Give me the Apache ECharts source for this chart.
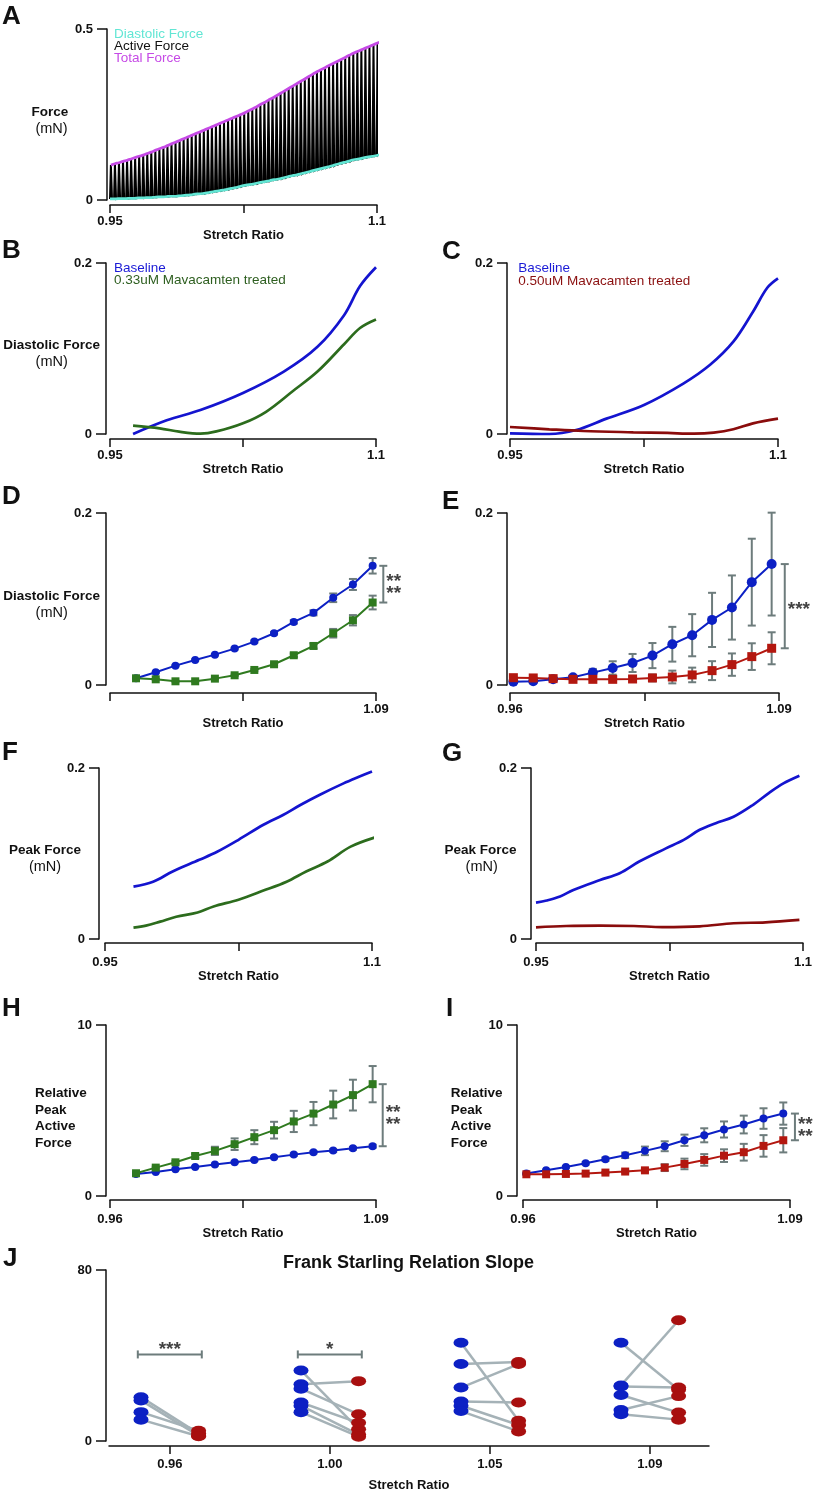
<!DOCTYPE html>
<html>
<head>
<meta charset="utf-8">
<script src="https://cdn.jsdelivr.net/npm/echarts@6/dist/echarts.min.js"></script>
<style>
  html, body { margin: 0; padding: 0; background: #fff; }
  #chart { width: 815px; height: 1495px; }
</style>
</head>
<body>
<div id="chart"></div>
<script>
// ---- panel A: beat-by-beat peaks and troughs (mN) ----
var aStart = 0.95, aEnd = 1.1066;
var aPeaks = [0.102,0.106,0.109,0.113,0.116,0.120,0.124,0.128,0.131,0.136,
  0.140,0.145,0.150,0.154,0.159,0.164,0.169,0.174,0.179,0.184,
  0.189,0.194,0.199,0.204,0.209,0.214,0.219,0.224,0.229,0.234,
  0.239,0.244,0.249,0.254,0.260,0.266,0.272,0.279,0.285,0.292,
  0.298,0.305,0.312,0.319,0.326,0.333,0.340,0.347,0.354,0.361,
  0.368,0.375,0.381,0.387,0.393,0.399,0.405,0.411,0.417,0.423,
  0.429,0.434,0.439,0.444,0.449,0.454,0.459,0.464,0.469,0.474];
var aTroughs = [0.003,0.003,0.004,0.004,0.004,0.005,0.005,0.006,0.006,0.007,
  0.007,0.008,0.009,0.009,0.010,0.011,0.011,0.012,0.013,0.014,
  0.015,0.017,0.018,0.019,0.021,0.023,0.025,0.027,0.029,0.031,
  0.034,0.036,0.039,0.042,0.044,0.046,0.048,0.051,0.053,0.055,
  0.058,0.060,0.062,0.065,0.068,0.071,0.073,0.076,0.079,0.082,
  0.085,0.088,0.091,0.094,0.097,0.100,0.104,0.107,0.110,0.113,
  0.117,0.119,0.121,0.124,0.126,0.128,0.130,0.133,0.135,0.137];

// ---- panels B, C: diastolic force traces [stretch ratio, mN] ----
var bBaseline = [[0.963,0.000],[0.982,0.016],[1.001,0.028],[1.025,0.048],[1.048,0.073],[1.067,0.102],[1.082,0.139],[1.091,0.173],[1.100,0.195]];
var bMava033 = [[0.963,0.0098],[0.978,0.0066],[0.989,0.0027],[1.001,0.0004],[1.010,0.003],[1.025,0.0125],[1.038,0.026],[1.053,0.050],[1.067,0.073],[1.082,0.105],[1.091,0.124],[1.100,0.134]];
var cBaseline = [[0.950,0.0008],[0.972,0.000],[0.987,0.0047],[1.004,0.018],[1.025,0.034],[1.047,0.059],[1.062,0.081],[1.075,0.108],[1.086,0.143],[1.094,0.171],[1.100,0.182]];
var cMava050 = [[0.950,0.0082],[0.972,0.0055],[0.991,0.0035],[1.019,0.002],[1.038,0.0012],[1.053,0.0004],[1.064,0.0016],[1.075,0.0055],[1.086,0.0125],[1.100,0.018]];

// ---- panels D, H: 13 stretch steps ----
var dRatios = [0.97,0.98,0.99,1.00,1.01,1.02,1.03,1.04,1.05,1.06,1.07,1.08,1.09];
var dBase = [0.0078,0.0148,0.0225,0.0291,0.0353,0.0423,0.0505,0.0602,0.0734,0.0839,0.1014,0.1169,0.1386];
var dBaseErr = [0.0005,0.0006,0.0006,0.0008,0.0008,0.001,0.0012,0.0015,0.002,0.003,0.005,0.0064,0.009];
var dMava = [0.0078,0.0066,0.0043,0.0043,0.0074,0.0113,0.0175,0.0241,0.0346,0.0454,0.0602,0.0753,0.0959];
var dMavaErr = [0.0005,0.0005,0.0005,0.0005,0.0006,0.0008,0.001,0.0012,0.002,0.003,0.005,0.006,0.008];

// ---- panels E, I: 14 stretch steps ----
var eRatios = [0.96,0.97,0.98,0.99,1.00,1.01,1.02,1.03,1.04,1.05,1.06,1.07,1.08,1.09];
var eBase = [0.0039,0.0043,0.0066,0.0089,0.0144,0.0198,0.0256,0.0342,0.0474,0.0579,0.0757,0.0901,0.1196,0.1406];
var eBaseErr = [0.001,0.001,0.001,0.0016,0.0043,0.0078,0.0105,0.0146,0.0202,0.0245,0.0315,0.0373,0.0505,0.0598];
var eMava = [0.0085,0.0082,0.0074,0.0066,0.0066,0.0066,0.007,0.0082,0.0093,0.0117,0.0167,0.0237,0.033,0.0427];
var eMavaErr = [0.001,0.001,0.001,0.001,0.0015,0.002,0.003,0.004,0.0074,0.0085,0.011,0.013,0.0155,0.0186];

// ---- panels F, G: peak force traces ----
var fBaseline = [[0.966,0.0613],[0.977,0.067],[0.988,0.079],[1.003,0.0926],[1.013,0.102],[1.025,0.116],[1.039,0.1336],[1.050,0.145],[1.060,0.157],[1.071,0.169],[1.084,0.182],[1.093,0.190],[1.100,0.196]];
var fMava033 = [[0.966,0.0133],[0.973,0.0156],[0.981,0.0203],[0.990,0.026],[1.002,0.031],[1.011,0.038],[1.025,0.046],[1.039,0.0566],[1.052,0.067],[1.063,0.079],[1.075,0.0906],[1.088,0.108],[1.102,0.119]];
var gBaseline = [[0.950,0.0426],[0.956,0.045],[0.9635,0.0496],[0.971,0.0574],[0.986,0.069],[0.997,0.077],[1.008,0.0906],[1.023,0.106],[1.033,0.116],[1.042,0.1277],[1.051,0.1355],[1.061,0.143],[1.072,0.157],[1.081,0.171],[1.089,0.182],[1.098,0.191]];
var gMava050 = [[0.950,0.0137],[0.967,0.0152],[0.986,0.0156],[1.005,0.0152],[1.021,0.014],[1.042,0.0148],[1.061,0.0184],[1.079,0.0195],[1.098,0.0223]];

// ---- panels H, I: relative peak active force ----
var hBase = [1.29,1.41,1.56,1.70,1.84,1.97,2.11,2.27,2.42,2.56,2.66,2.79,2.91];
var hBaseErr = [0.03,0.03,0.04,0.04,0.05,0.05,0.06,0.06,0.07,0.07,0.08,0.08,0.09];
var hMava = [1.33,1.66,1.97,2.34,2.64,3.03,3.44,3.85,4.36,4.82,5.35,5.90,6.54];
var hMavaErr = [0.05,0.06,0.08,0.12,0.24,0.34,0.41,0.49,0.62,0.68,0.81,0.90,1.06];
var iBase = [1.31,1.50,1.70,1.91,2.15,2.38,2.64,2.91,3.26,3.55,3.89,4.18,4.53,4.82];
var iBaseErr = [0.03,0.04,0.05,0.07,0.10,0.16,0.25,0.29,0.33,0.41,0.47,0.52,0.60,0.65];
var iMava = [1.27,1.27,1.29,1.31,1.37,1.43,1.50,1.66,1.875,2.11,2.36,2.56,2.93,3.26];
var iMavaErr = [0.02,0.02,0.03,0.03,0.04,0.06,0.10,0.20,0.31,0.34,0.37,0.49,0.63,0.71];

// ---- panel J: slope pairs [baseline, treated] per stretch ratio ----
var jCategories = ['0.96','1.00','1.05','1.09'];
var jPairs = [
  [[20.5,3.5],[19,2.5],[13.5,4.8],[10,2.2]],
  [[33,5.5],[26.5,28],[24.5,12.5],[18,8.5],[16.5,3],[13.5,2]],
  [[46,9.5],[36,37],[25,36],[18.5,18],[16.5,7.5],[14,4.5]],
  [[46,24],[26,56.5],[25.5,25],[21.5,13.3],[14.5,21],[12.5,10]]
];

var FONT = '"Liberation Sans", Arial, Helvetica, sans-serif';
var INK = '#111';
var BLUE_LINE = '#1414cf', GREEN_LINE = '#2c6c1d', DARKRED = '#8a0c0c';
var BLUE_MK = '#0c20c4', GREEN_MK = '#2f7a1f', RED_MK = '#b3170f';
var ERR = '#6d7c7c', J_LINE = '#a5b2b7';

// grid boxes: left, top, width, height
var boxes = [
  [110, 29, 267, 171], [110, 263, 266, 171], [510, 263, 268, 171],
  [110, 513, 266, 172], [510, 513, 269, 172],
  [105, 768, 267, 171], [536, 768, 267, 171],
  [110, 1025, 266, 171], [523, 1025, 267, 171],
  [109, 1270, 600, 171]
];
var yOff = [3, 4, 3, 4, 3, 6, 5, 4, 6, 3];
var xOff = [5, 5, 5, 8, 8, 4, 4, 4, 4, 5];

function xAxisFor(gi, min, max, ticks, labelVals, labelText, margin, nameGap) {
  return {
    type: 'value', gridIndex: gi, min: min, max: max, offset: xOff[gi],
    name: 'Stretch Ratio', nameLocation: 'middle', nameGap: nameGap,
    nameTextStyle: { fontSize: 13, fontWeight: 'bold', color: INK, fontFamily: FONT },
    axisLine: { show: true, onZero: false, lineStyle: { color: INK, width: 1.5 } },
    axisTick: { show: true, customValues: ticks, length: 8, lineStyle: { color: INK, width: 1.5 } },
    axisLabel: {
      show: true, customValues: labelVals, margin: margin,
      fontSize: 13, fontWeight: 'bold', color: INK, fontFamily: FONT,
      formatter: function (v) {
        for (var k = 0; k < labelVals.length; k++) {
          if (Math.abs(labelVals[k] - v) < 1e-6) return labelText[k];
        }
        return '';
      }
    },
    splitLine: { show: false }
  };
}
function yAxisFor(gi, max, maxText) {
  return {
    type: 'value', gridIndex: gi, min: 0, max: max, offset: yOff[gi],
    axisLine: { show: true, onZero: false, lineStyle: { color: INK, width: 1.5 } },
    axisTick: { show: true, customValues: [0, max], length: 10, lineStyle: { color: INK, width: 1.5 } },
    axisLabel: {
      show: true, customValues: [0, max], margin: 14,
      fontSize: 13, fontWeight: 'bold', color: INK, fontFamily: FONT,
      formatter: function (v) { return v === 0 ? '0' : maxText; }
    },
    splitLine: { show: false }
  };
}

var dMin = 0.9568, dMax = 1.0917, eMin = 0.9583, eMax = 1.0937;
var xAxes = [
  xAxisFor(0, 0.95, 1.1, [0.95, 1.025, 1.1], [0.95, 1.1], ['0.95', '1.1'], 10, 20),
  xAxisFor(1, 0.95, 1.1, [0.95, 1.025, 1.1], [0.95, 1.1], ['0.95', '1.1'], 10, 21),
  xAxisFor(2, 0.95, 1.1, [0.95, 1.025, 1.1], [0.95, 1.1], ['0.95', '1.1'], 10, 21),
  xAxisFor(3, dMin, dMax, [dMin, (dMin + dMax) / 2, dMax], [dMax], ['1.09'], 10, 21),
  xAxisFor(4, eMin, eMax, [eMin, (eMin + eMax) / 2, eMax], [eMin, eMax], ['0.96', '1.09'], 10, 21),
  xAxisFor(5, 0.95, 1.1, [0.95, 1.025, 1.1], [0.95, 1.1], ['0.95', '1.1'], 13, 22),
  xAxisFor(6, 0.95, 1.1, [0.95, 1.025, 1.1], [0.95, 1.1], ['0.95', '1.1'], 13, 22),
  xAxisFor(7, dMin, dMax, [dMin, (dMin + dMax) / 2, dMax], [dMin, dMax], ['0.96', '1.09'], 13, 22),
  xAxisFor(8, eMin, 1.0934, [eMin, (eMin + 1.0934) / 2, 1.0934], [eMin, 1.0934], ['0.96', '1.09'], 13, 22),
  xAxisFor(9, -0.38, 3.37, [0, 1, 2, 3], [0, 1, 2, 3], jCategories, 12, 33)
];
var yAxes = [
  yAxisFor(0, 0.5, '0.5'), yAxisFor(1, 0.2, '0.2'), yAxisFor(2, 0.2, '0.2'),
  yAxisFor(3, 0.2, '0.2'), yAxisFor(4, 0.2, '0.2'), yAxisFor(5, 0.2, '0.2'),
  yAxisFor(6, 0.2, '0.2'), yAxisFor(7, 10, '10'), yAxisFor(8, 10, '10'),
  yAxisFor(9, 80, '80')
];

function zip(xs, ys) { return xs.map(function (x, i) { return [x, ys[i]]; }); }

function curve(gi, data, color, width, z) {
  return { type: 'line', xAxisIndex: gi, yAxisIndex: gi, data: data, symbol: 'none',
    smooth: 0.35, clip: false, silent: true, z: z || 2,
    lineStyle: { color: color, width: width } };
}
function marked(gi, xs, ys, color, symbol, size, z) {
  return { type: 'line', xAxisIndex: gi, yAxisIndex: gi, data: zip(xs, ys),
    symbol: symbol, symbolSize: size, showSymbol: true, clip: false, silent: true, z: z || 4,
    itemStyle: { color: color, borderWidth: 0, opacity: 1 }, lineStyle: { color: color, width: 2 } };
}
function vBar(params, api) {
  var x = api.value(0);
  var p1 = api.coord([x, api.value(1)]), p2 = api.coord([x, api.value(2)]);
  var w = api.value(3);
  var st = { stroke: ERR, lineWidth: 2 };
  return { type: 'group', children: [
    { type: 'line', shape: { x1: p1[0], y1: p1[1], x2: p2[0], y2: p2[1] }, style: st },
    { type: 'line', shape: { x1: p1[0] - w, y1: p1[1], x2: p1[0] + w, y2: p1[1] }, style: st },
    { type: 'line', shape: { x1: p2[0] - w, y1: p2[1], x2: p2[0] + w, y2: p2[1] }, style: st }
  ] };
}
function errBars(gi, xs, ys, es, z) {
  return { type: 'custom', xAxisIndex: gi, yAxisIndex: gi, renderItem: vBar, clip: false, silent: true,
    z: z || 3, encode: { x: 0, y: [1, 2] },
    data: xs.map(function (x, i) { return [x, ys[i] - es[i], ys[i] + es[i], 4]; }) };
}
function bracket(gi, x, lo, hi) {
  return { type: 'custom', xAxisIndex: gi, yAxisIndex: gi, renderItem: vBar, clip: false, silent: true,
    z: 3, encode: { x: 0, y: [1, 2] }, data: [[x, lo, hi, 4]] };
}
function stars(gi, x, y, text, pos) {
  return { type: 'scatter', xAxisIndex: gi, yAxisIndex: gi, symbolSize: 0, clip: false, silent: true,
    data: [[x, y]],
    label: { show: true, position: pos || 'right', distance: 3, formatter: text,
      fontSize: 19, fontWeight: 'bold', color: INK, fontFamily: FONT, lineHeight: 12, offset: [0, 4] } };
}

// panel A black beat trace built from peaks / troughs
var aDx = (aEnd - aStart) / (aPeaks.length - 1);
var aTrace = [], aPeakLine = [], aTroughLine = [];
aPeaks.forEach(function (p, i) {
  var x0 = aStart + i * aDx;
  aTrace.push([x0, aTroughs[i]]);
  aTrace.push([x0 + 0.22 * aDx, p]);
  aTrace.push([x0 + 0.5 * aDx, aTroughs[i]]);
  aPeakLine.push([x0 + 0.22 * aDx, p]);
  aTroughLine.push([x0, aTroughs[i]]);
});

// panel J series
var jLineData = [], jBlue = [], jRed = [];
jPairs.forEach(function (pairs, c) {
  pairs.forEach(function (p) {
    jLineData.push([c - 0.18, p[0], c + 0.18, p[1]]);
    jBlue.push([c - 0.18, p[0]]);
    jRed.push([c + 0.18, p[1]]);
  });
});

var series = [
  { type: 'line', xAxisIndex: 0, yAxisIndex: 0, data: aTrace, symbol: 'none', clip: false, silent: true,
    lineStyle: { color: '#000', width: 2, join: 'miter' }, z: 1 },
  curve(0, aTroughLine, '#62e6d4', 2.7, 3),
  curve(0, aPeakLine, '#c64ae6', 2.8, 3),

  curve(1, bBaseline, BLUE_LINE, 2.7), curve(1, bMava033, GREEN_LINE, 2.7),
  curve(2, cBaseline, BLUE_LINE, 2.7), curve(2, cMava050, DARKRED, 2.7),

  errBars(3, dRatios, dBase, dBaseErr), errBars(3, dRatios, dMava, dMavaErr),
  marked(3, dRatios, dBase, BLUE_MK, 'circle', 8), marked(3, dRatios, dMava, GREEN_MK, 'rect', 8),
  bracket(3, 1.0954, dMava[12], dBase[12]), stars(3, 1.0954, (dMava[12] + dBase[12]) / 2, '**\n**'),

  errBars(4, eRatios, eBase, eBaseErr), errBars(4, eRatios, eMava, eMavaErr),
  marked(4, eRatios, eBase, BLUE_MK, 'circle', 10), marked(4, eRatios, eMava, RED_MK, 'rect', 9),
  bracket(4, 1.0966, eMava[13], eBase[13]), stars(4, 1.0966, (eMava[13] + eBase[13]) / 2, '***'),

  curve(5, fBaseline, BLUE_LINE, 2.7), curve(5, fMava033, GREEN_LINE, 2.7),
  curve(6, gBaseline, BLUE_LINE, 2.7), curve(6, gMava050, DARKRED, 2.7),

  errBars(7, dRatios, hBase, hBaseErr), errBars(7, dRatios, hMava, hMavaErr),
  marked(7, dRatios, hBase, BLUE_MK, 'circle', 8), marked(7, dRatios, hMava, GREEN_MK, 'rect', 8),
  bracket(7, 1.0951, hBase[12], hMava[12]), stars(7, 1.0951, (hBase[12] + hMava[12]) / 2, '**\n**'),

  errBars(8, eRatios, iBase, iBaseErr), errBars(8, eRatios, iMava, iMavaErr),
  marked(8, eRatios, iBase, BLUE_MK, 'circle', 8), marked(8, eRatios, iMava, RED_MK, 'rect', 8),
  bracket(8, 1.0959, iMava[13], iBase[13]), stars(8, 1.0959, (iMava[13] + iBase[13]) / 2, '**\n**'),

  { type: 'custom', xAxisIndex: 9, yAxisIndex: 9, clip: false, silent: true, z: 2,
    encode: { x: [0, 2], y: [1, 3] }, data: jLineData,
    renderItem: function (params, api) {
      var a = api.coord([api.value(0), api.value(1)]), b = api.coord([api.value(2), api.value(3)]);
      return { type: 'line', shape: { x1: a[0], y1: a[1], x2: b[0], y2: b[1] },
        style: { stroke: J_LINE, lineWidth: 2.5 } };
    } },
  { type: 'scatter', xAxisIndex: 9, yAxisIndex: 9, data: jBlue, symbol: 'circle', symbolSize: [15, 10],
    itemStyle: { color: BLUE_MK, opacity: 1 }, z: 4, silent: true },
  { type: 'scatter', xAxisIndex: 9, yAxisIndex: 9, data: jRed, symbol: 'circle', symbolSize: [15, 10],
    itemStyle: { color: '#a80f0f', opacity: 1 }, z: 4, silent: true },
  { type: 'custom', xAxisIndex: 9, yAxisIndex: 9, clip: false, silent: true, z: 3,
    encode: { x: [1, 2], y: 0 }, data: [[40.5, -0.2, 0.2], [40.5, 0.8, 1.2]],
    renderItem: function (params, api) {
      var a = api.coord([api.value(1), api.value(0)]), b = api.coord([api.value(2), api.value(0)]);
      var st = { stroke: ERR, lineWidth: 2 };
      return { type: 'group', children: [
        { type: 'line', shape: { x1: a[0], y1: a[1], x2: b[0], y2: b[1] }, style: st },
        { type: 'line', shape: { x1: a[0], y1: a[1] - 4, x2: a[0], y2: a[1] + 4 }, style: st },
        { type: 'line', shape: { x1: b[0], y1: b[1] - 4, x2: b[0], y2: b[1] + 4 }, style: st }
      ] };
    } },
  stars(9, 0, 40.5, '***', 'top'), stars(9, 1, 40.5, '*', 'top')
];

function txt(text, x, y, size, weight, color, align) {
  return { type: 'text', silent: true, style: {
    text: text, x: x, y: y, fill: color || INK,
    font: (weight || 'normal') + ' ' + size + 'px ' + FONT,
    textAlign: align || 'center', textVerticalAlign: 'middle',
    align: align || 'center', verticalAlign: 'middle' } };
}
var graphics = [
  txt('A', 2, 16.5, 26, 'bold', INK, 'left'), txt('B', 2, 251, 26, 'bold', INK, 'left'),
  txt('C', 442, 252, 26, 'bold', INK, 'left'), txt('D', 2, 496.5, 26, 'bold', INK, 'left'),
  txt('E', 442, 502, 26, 'bold', INK, 'left'), txt('F', 2, 753, 26, 'bold', INK, 'left'),
  txt('G', 442, 754, 26, 'bold', INK, 'left'), txt('H', 2, 1009, 26, 'bold', INK, 'left'),
  txt('I', 446, 1009, 26, 'bold', INK, 'left'), txt('J', 3, 1259, 26, 'bold', INK, 'left'),

  txt('Force', 50, 112, 13.5, 'bold'), txt('(mN)', 51.5, 129, 14.5),
  txt('Diastolic Force', 51.7, 345, 13.5, 'bold'), txt('(mN)', 51.7, 361.7, 14.5),
  txt('Diastolic Force', 51.7, 596.7, 13.5, 'bold'), txt('(mN)', 51.7, 612.7, 14.5),
  txt('Peak Force', 45, 850, 13.5, 'bold'), txt('(mN)', 45, 866.7, 14.5),
  txt('Peak Force', 480.5, 850, 13.5, 'bold'), txt('(mN)', 481.7, 866.7, 14.5),
  txt('Relative', 35, 1093.3, 13.5, 'bold', INK, 'left'), txt('Peak', 35, 1110, 13.5, 'bold', INK, 'left'),
  txt('Active', 35, 1126.7, 13.5, 'bold', INK, 'left'), txt('Force', 35, 1143.3, 13.5, 'bold', INK, 'left'),
  txt('Relative', 450.7, 1093.3, 13.5, 'bold', INK, 'left'), txt('Peak', 450.7, 1110, 13.5, 'bold', INK, 'left'),
  txt('Active', 450.7, 1126.7, 13.5, 'bold', INK, 'left'), txt('Force', 450.7, 1143.3, 13.5, 'bold', INK, 'left'),

  txt('Diastolic Force', 114, 33.8, 13.5, 'normal', '#62e6d4', 'left'),
  txt('Active Force', 114, 45.8, 13.5, 'normal', INK, 'left'),
  txt('Total Force', 114, 58, 13.5, 'normal', '#c64ae6', 'left'),
  txt('Baseline', 114, 267.8, 13.5, 'normal', '#1a1ad6', 'left'),
  txt('0.33uM Mavacamten treated', 114, 280.7, 13.5, 'normal', '#2d5e1f', 'left'),
  txt('Baseline', 518.3, 268, 13.5, 'normal', '#1a1ad6', 'left'),
  txt('0.50uM Mavacamten treated', 518.3, 281, 13.5, 'normal', '#8b1010', 'left'),
  txt('Frank Starling Relation Slope', 408.5, 1263, 18, 'bold')
];

var chart = echarts.init(document.getElementById('chart'), null, { renderer: 'canvas' });
chart.setOption({
  animation: false,
  backgroundColor: '#fff',
  textStyle: { fontFamily: FONT },
  grid: boxes.map(function (b) { return { left: b[0], top: b[1], width: b[2], height: b[3], containLabel: false }; }),
  xAxis: xAxes,
  yAxis: yAxes,
  series: series,
  graphic: graphics
});
</script>
</body>
</html>
